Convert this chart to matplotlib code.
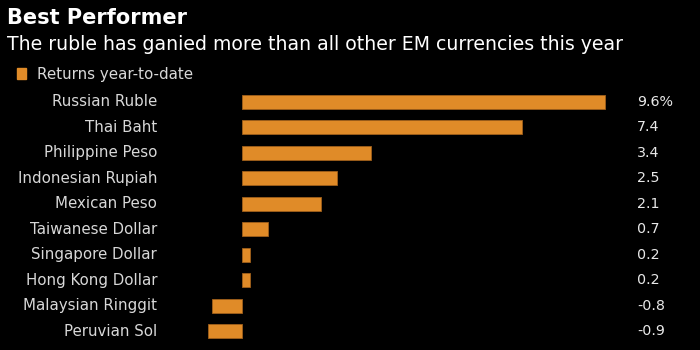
import matplotlib.pyplot as plt
from matplotlib.patches import Rectangle
import matplotlib.transforms as mtransforms

# currencies and year-to-date returns (%)
currencies = ["Russian Ruble", "Thai Baht", "Philippine Peso", "Indonesian Rupiah",
              "Mexican Peso", "Taiwanese Dollar", "Singapore Dollar", "Hong Kong Dollar",
              "Malaysian Ringgit", "Peruvian Sol"]
returns = [9.6, 7.4, 3.4, 2.5, 2.1, 0.7, 0.2, 0.2, -0.8, -0.9]
value_labels = ["9.6%", "7.4", "3.4", "2.5", "2.1", "0.7", "0.2", "0.2", "-0.8", "-0.9"]

bar_color = "#e08b28"
bg = "black"

plt.rcParams['font.family'] = ['DejaVu Sans']

fig = plt.figure(figsize=(7, 3.5), dpi=100, facecolor=bg)
ax = fig.add_axes([200 / 700, 1 - 343.75 / 350, 410 / 700, (343.75 - 89.25) / 350])
ax.set_facecolor(bg)

ypos = list(range(len(currencies)))
ax.barh(ypos, returns, height=0.55, color=bar_color, edgecolor="#a0601a", linewidth=0.6)
ax.set_xlim((200 - 242) / 37.8, (610 - 242) / 37.8)
ax.set_ylim(len(currencies) - 0.5, -0.5)
ax.axis("off")

# category labels on the left, value labels on the right
trans = mtransforms.blended_transform_factory(fig.transFigure, ax.transData)
for y, name, lab in zip(ypos, currencies, value_labels):
    ax.text(157 / 700, y, name, transform=trans, ha="right", va="center",
            color="#d8d8d8", fontsize=10.8)
    ax.text(637 / 700, y, lab, transform=trans, ha="left", va="center",
            color="#e8e8e8", fontsize=10.3)

# title, subtitle, legend
fig.text(7 / 700, 1 - 24 / 350, "Best Performer", color="white", fontsize=15,
         fontweight="bold", ha="left", va="baseline")
fig.text(7 / 700, 1 - 50 / 350, "The ruble has ganied more than all other EM currencies this year",
         color="white", fontsize=13.6, ha="left", va="baseline")
fig.patches.append(Rectangle((17 / 700, 1 - 79 / 350), 9 / 700, 11 / 350,
                             transform=fig.transFigure, color=bar_color))
fig.text(37 / 700, 1 - 79 / 350, "Returns year-to-date", color="#d8d8d8", fontsize=10.9,
         ha="left", va="baseline")

fig.savefig("out.png", dpi=100, facecolor=bg)
